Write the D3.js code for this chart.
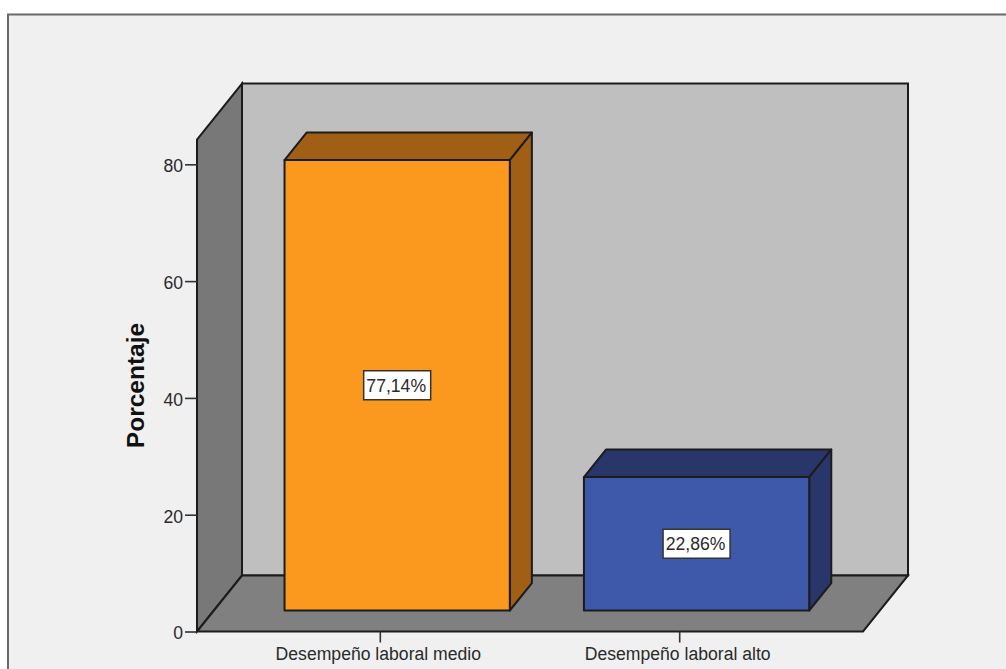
<!DOCTYPE html>
<html>
<head>
<meta charset="utf-8">
<script src="https://cdn.jsdelivr.net/npm/d3@7/dist/d3.min.js"></script>
<style>
  html, body { margin: 0; padding: 0; background: #fff; }
  svg { display: block; }
  text { font-family: "Liberation Sans", Arial, sans-serif; }
</style>
</head>
<body>
<svg id="chart" width="1006" height="669"></svg>
<script>
const categories = ["Desempeño laboral medio", "Desempeño laboral alto"];
const percentages = [77.14, 22.86];
const barFronts = ["#fb991e", "#3e58aa"];
const barShades = ["#a05f14", "#28366a"];
const yTicks = [0, 20, 40, 60, 80];
const yTitle = "Porcentaje";

const W = 1006, H = 669;
const INK = "#1c1c1c";
const TEXT = "#2a2a2a";

const svg = d3.select("#chart");
const percentLabel = d3.formatLocale({
  decimal: ",", thousands: ".", grouping: [3], currency: ["", ""]
}).format(".2f");

// Value axis runs a little past 80 to the top of the box.
const y = d3.scaleLinear().domain([0, 84.25]).range([631.5, 139.5]);
const x = d3.scaleBand().domain(categories).range([197, 863])
  .paddingInner(0.2475).paddingOuter(0.236);

// Oblique projection of the box: full depth shift, and the depth span of a bar.
const depthX = 45, depthY = -56;
const barNear = 0.375, barFar = 0.865;
const project = (px, py, d) => [px + depthX * d, py + depthY * d];
const poly = d3.line();

const x0 = x.range()[0], x1 = x.range()[1];
const yBase = y(0), yTop = y.range()[1];

// Panel
svg.append("rect").attr("width", W).attr("height", H).attr("fill", "#fff");
svg.append("rect").attr("x", 8).attr("y", 14.5).attr("width", W + 20).attr("height", H + 20)
  .attr("fill", "#f0f0f0").attr("stroke", "#6a6a6a").attr("stroke-width", 2);

// Box: back wall, left wall, floor
const box = svg.append("g").attr("stroke", INK).attr("stroke-width", 2).attr("stroke-linejoin", "miter");
const face = (g, pts, fill) => g.append("path").attr("d", poly(pts) + "Z").attr("fill", fill);

face(box, [project(x0, yTop, 1), project(x1, yTop, 1), project(x1, yBase, 1), project(x0, yBase, 1)], "#bfbfbf");
face(box, [[x0, yBase], [x0, yTop], project(x0, yTop, 1), project(x0, yBase, 1)], "#787878");
face(box, [[x0, yBase], [x1, yBase], project(x1, yBase, 1), project(x0, yBase, 1)], "#808080");

// Bars
const bars = svg.append("g").attr("stroke", INK).attr("stroke-width", 2).attr("stroke-linejoin", "round");
categories.forEach((c, i) => {
  const v = percentages[i];
  const l = x(c), r = l + x.bandwidth();
  const rise = y(0) - y(v);
  const g = bars.append("g");
  const near = (px, py) => project(px, py, barNear);
  const far = (px, py) => project(px, py, barFar);
  face(g, [near(l, yBase - rise), near(r, yBase - rise), far(r, yBase - rise), far(l, yBase - rise)], barShades[i]);
  face(g, [near(r, yBase), near(r, yBase - rise), far(r, yBase - rise), far(r, yBase)], barShades[i]);
  face(g, [near(l, yBase), near(r, yBase), near(r, yBase - rise), near(l, yBase - rise)], barFronts[i]);

  // Value label, centred on the front face
  const [cx, cy] = near((l + r) / 2, yBase - rise / 2);
  const tag = svg.append("g").attr("transform", `translate(${cx},${cy})`);
  tag.append("rect").attr("x", -33.5).attr("y", -14.5).attr("width", 67).attr("height", 29)
    .attr("fill", "#fff").attr("stroke", "#333").attr("stroke-width", 1.5);
  tag.append("text").attr("text-anchor", "middle").attr("x", -1).attr("y", 6.4)
    .attr("font-size", 17.6).attr("fill", TEXT).text(percentLabel(v) + "%");
});

// Axes
const yAxis = svg.append("g").attr("transform", `translate(${x0},0)`)
  .call(d3.axisLeft(y).tickValues(yTicks).tickSize(12).tickPadding(2));
const xAxis = svg.append("g").attr("transform", `translate(0,${yBase})`)
  .call(d3.axisBottom(x).tickSize(11).tickPadding(5.5));
[yAxis, xAxis].forEach(a => {
  a.select(".domain").remove();
  a.selectAll("line").attr("stroke", "#333").attr("stroke-width", 1.6);
  a.selectAll("text").attr("font-family", null).attr("font-size", 17.6).attr("fill", TEXT);
});
yAxis.selectAll("text").attr("dy", "0.42em");
xAxis.selectAll("text").attr("dx", -2);

// Axis title
svg.append("text")
  .attr("transform", "translate(144,385.5) rotate(-90)")
  .attr("text-anchor", "middle")
  .attr("font-size", 24.5).attr("font-weight", "bold").attr("fill", "#111")
  .text(yTitle);
</script>
</body>
</html>
